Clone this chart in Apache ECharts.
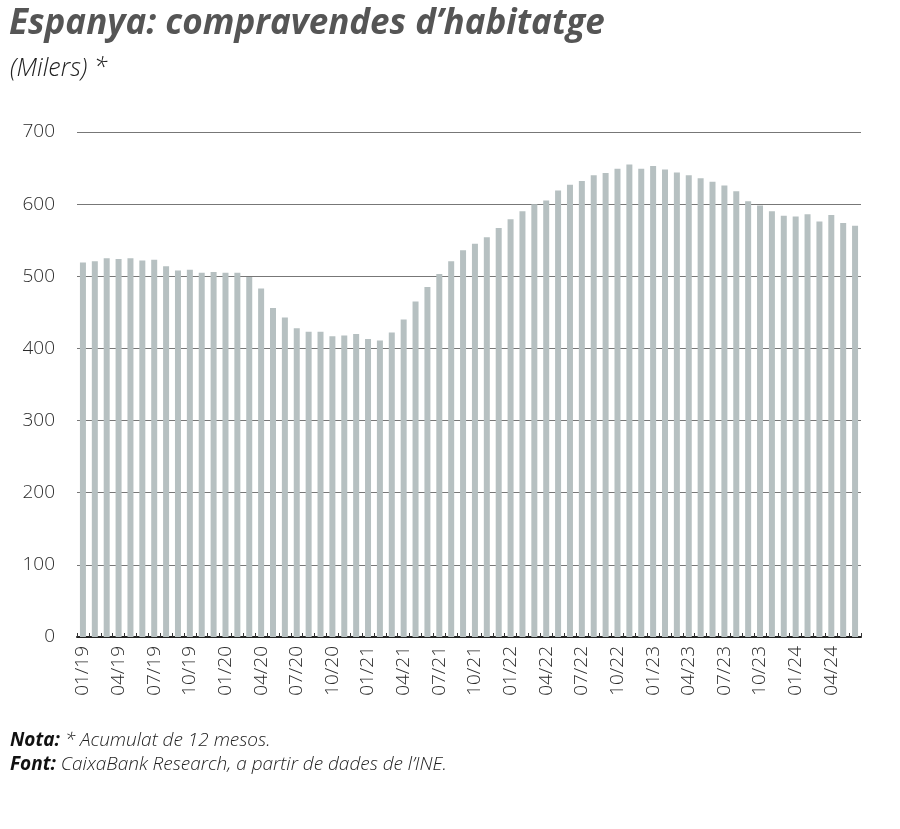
<!DOCTYPE html>
<html>
<head>
<meta charset="utf-8">
<script src="https://cdn.jsdelivr.net/npm/echarts@6/dist/echarts.min.js"></script>
<style>
html,body{margin:0;padding:0;background:#fff;}
#chart{width:900px;height:829px;}
</style>
</head>
<body>
<div id="chart"></div>
<script>
const months = [];
for (let y = 19; y <= 24; y++) {
  for (let m = 1; m <= 12; m++) {
    if (y === 24 && m > 6) break;
    months.push((m < 10 ? '0' + m : '' + m) + '/' + y);
  }
}
const values = [
  519, 521, 525, 524, 525, 522, 523, 514, 508, 509, 505, 506,
  505, 505, 499, 483, 456, 443, 428, 423, 423, 417, 418, 420,
  413, 411, 422, 440, 465, 485, 503, 521, 536, 545, 554, 567,
  579, 590, 600, 605, 619, 627, 632, 640, 643, 649, 655, 649,
  653, 648, 644, 640, 636, 631, 626, 618, 604, 598, 590, 584,
  583, 586, 576, 585, 574, 570
];
const yTicks = [0, 100, 200, 300, 400, 500, 600, 700];
const titleText = 'Espanya: compravendes d\u2019habitatge';
const subtitleText = '(Milers) *';

const chart = echarts.init(document.getElementById('chart'));
chart.setOption({
  animation: false,
  backgroundColor: '#fff',
  grid: {left: 77, right: 39, top: 132, bottom: 192, containLabel: false},
  xAxis: {
    type: 'category',
    data: months,
    axisLine: {lineStyle: {color: '#222', width: 2}},
    axisTick: {show: true, inside: true, length: 4, interval: 0, lineStyle: {color: '#333', width: 1}},
    axisLabel: {
      interval: 2, rotate: 90, margin: 9,
      fontFamily: 'Open Sans', fontWeight: 300, fontSize: 19, color: '#2a2a2a'
    }
  },
  yAxis: {
    type: 'value', min: yTicks[0], max: yTicks[yTicks.length - 1], interval: 100,
    axisLine: {show: false},
    axisTick: {show: false},
    splitLine: {lineStyle: {color: '#777', width: 1}},
    axisLabel: {
      margin: 22, fontFamily: 'Open Sans', fontWeight: 300, fontSize: 19, color: '#2a2a2a',
      formatter: v => yTicks.includes(v) ? String(v) : ''
    }
  },
  series: [{
    type: 'bar',
    data: values,
    barWidth: 6,
    itemStyle: {color: '#b6c0c1'}
  }],
  graphic: [
    {type: 'text', left: 9, top: 7, style: {text: titleText, font: 'italic bold 35px "Open Sans"', fill: '#555'}},
    {type: 'text', left: 10, top: 56, style: {text: subtitleText, font: 'italic 300 25px "Open Sans"', fill: '#222'}},
    {type: 'text', left: 10, top: 731, style: {
      text: '{b|Nota:} * Acumulat de 12 mesos.',
      rich: {b: {font: 'italic bold 19px "Open Sans"', fill: '#111'}},
      font: 'italic 300 19px "Open Sans"', fill: '#222'}},
    {type: 'text', left: 10, top: 755, style: {
      text: '{b|Font:} CaixaBank Research, a partir de dades de l\u2019INE.',
      rich: {b: {font: 'italic bold 19px "Open Sans"', fill: '#111'}},
      font: 'italic 300 19px "Open Sans"', fill: '#222'}}
  ]
});
</script>
</body>
</html>
